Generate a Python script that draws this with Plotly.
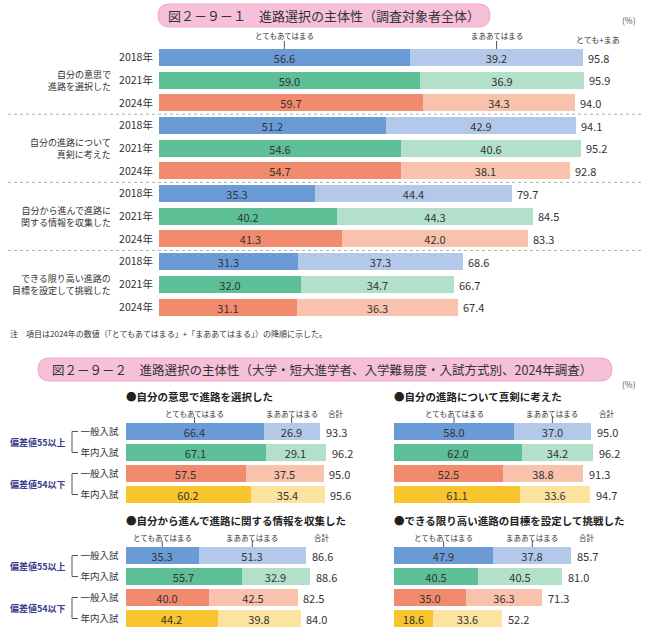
import plotly.graph_objects as go

# ---------------- data ----------------
top_groups = ["自分の意思で<br>進路を選択した", "自分の進路について<br>真剣に考えた",
              "自分から進んで進路に<br>関する情報を収集した", "できる限り高い進路の<br>目標を設定して挑戦した"]
years = ["2018年", "2021年", "2024年"]
top_strong = [56.6, 59.0, 59.7, 51.2, 54.6, 54.7, 35.3, 40.2, 41.3, 31.3, 32.0, 31.1]
top_some = [39.2, 36.9, 34.3, 42.9, 40.6, 38.1, 44.4, 44.3, 42.0, 37.3, 34.7, 36.3]
top_total = [95.8, 95.9, 94.0, 94.1, 95.2, 92.8, 79.7, 84.5, 83.3, 68.6, 66.7, 67.4]

panel_titles = ["●自分の意思で進路を選択した", "●自分の進路について真剣に考えた",
                "●自分から進んで進路に関する情報を収集した", "●できる限り高い進路の目標を設定して挑戦した"]
exam_labels = ["一般入試", "年内入試", "一般入試", "年内入試"]
score_groups = ["偏差値55以上", "偏差値54以下"]
b_strong = [[66.4, 67.1, 57.5, 60.2], [58.0, 62.0, 52.5, 61.1],
            [35.3, 55.7, 40.0, 44.2], [47.9, 40.5, 35.0, 18.6]]
b_some = [[26.9, 29.1, 37.5, 35.4], [37.0, 34.2, 38.8, 33.6],
          [51.3, 32.9, 42.5, 39.8], [37.8, 40.5, 36.3, 33.6]]
b_total = [[93.3, 96.2, 95.0, 95.6], [95.0, 96.2, 91.3, 94.7],
           [86.6, 88.6, 82.5, 84.0], [85.7, 81.0, 71.3, 52.2]]

title1 = "図２－９－１　進路選択の主体性（調査対象者全体）"
title2 = "図２－９－２　進路選択の主体性（大学・短大進学者、入学難易度・入試方式別、2024年調査）"
note = "注　項目は2024年の数値（「とてもあてはまる」+「まああてはまる」）の降順に示した。"
lab_strong = "とてもあてはまる"
lab_some = "まああてはまる"

# ---------------- style ----------------
W, H = 650, 636
FONT = "Noto Sans CJK JP"
TXT = "#333333"
dark = {"blue": "#6b9bd6", "green": "#5dbf95", "orange": "#f28b6d", "yellow": "#f8c52f"}
light = {"blue": "#b4c8e9", "green": "#b3e0ca", "orange": "#f9c2ac", "yellow": "#fde3a0"}
top_cols = ["blue", "green", "orange"] * 4
bot_cols = ["blue", "green", "orange", "yellow"]


def fx(p):
    return p / W


def fy(p):
    return 1 - p / H


fig = go.Figure()
ann = []
shapes = []


def A(**kw):
    kw.setdefault("showarrow", False)
    kw.setdefault("xanchor", "center")
    kw.setdefault("yanchor", "middle")
    ann.append(kw)


# ---------------- top chart ----------------
n = len(top_strong)
rows = list(range(n))
for vals, pal in ((top_strong, dark), (top_some, light)):
    fig.add_trace(go.Bar(y=rows, x=vals, orientation="h", xaxis="x", yaxis="y",
                         marker=dict(color=[pal[c] for c in top_cols], line=dict(width=0)),
                         width=0.75, text=[f"{v:.1f}" for v in vals],
                         textposition="inside", insidetextanchor="middle",
                         textfont=dict(size=11, color=TXT, family=FONT), hoverinfo="skip"))
for i, t in enumerate(top_total):
    A(x=t, y=i, xref="x", yref="y", text=f"{t:.1f}", xanchor="left", xshift=3,
      font=dict(size=11, color=TXT))
for g, lab in enumerate(top_groups):
    A(x=fx(113), y=g * 3 + 1, xref="paper", yref="y", text=lab, xanchor="right", align="right",
      font=dict(size=9, color=TXT))
for k in (2.5, 5.5, 8.5):
    shapes.append(dict(type="line", xref="paper", yref="y", x0=fx(8), x1=fx(642), y0=k, y1=k,
                       line=dict(color="#b0b0b0", width=1, dash="dot")))
# headers
hx1 = top_strong[0] / 2
hx2 = top_strong[0] + top_some[0] / 2
for hx, lab in ((hx1, lab_strong), (hx2, lab_some)):
    A(x=hx, y=fy(36), xref="x", yref="paper", text=lab, font=dict(size=7.5, color=TXT))
    shapes.append(dict(type="line", xref="x", yref="paper", x0=hx, x1=hx, y0=fy(41), y1=fy(49),
                       line=dict(color="#555", width=1)))
A(x=top_total[0], y=fy(40), xref="x", yref="paper", text="とても+まあ", xshift=15,
  font=dict(size=8, color=TXT))
A(x=fx(638), y=fy(20), xref="paper", yref="paper", text="(%)", xanchor="right",
  font=dict(size=8.5, color="#555"))
A(x=fx(8), y=fy(333), xref="paper", yref="paper", text=note, xanchor="left",
  font=dict(size=8, color=TXT))


# title boxes
def pill(x0, x1, y0, y1):
    r = (y1 - y0) / 2
    X0, X1 = fx(x0), fx(x1)
    Y0, Y1, YM = fy(y0), fy(y1), fy((y0 + y1) / 2)
    rx = r / W
    return (f"M {X0+rx},{Y0} L {X1-rx},{Y0} Q {X1},{Y0} {X1},{YM} Q {X1},{Y1} {X1-rx},{Y1} "
            f"L {X0+rx},{Y1} Q {X0},{Y1} {X0},{YM} Q {X0},{Y0} {X0+rx},{Y0} Z")


shapes.append(dict(type="path", xref="paper", yref="paper", path=pill(158, 490, 4, 27),
                   fillcolor="#f6c0d9", line=dict(color="#eeaacb", width=1), layer="below"))
A(x=fx(324), y=fy(15.5), xref="paper", yref="paper", text=title1, font=dict(size=13, color=TXT))
shapes.append(dict(type="path", xref="paper", yref="paper", path=pill(38, 612, 358, 381),
                   fillcolor="#f6c0d9", line=dict(color="#eeaacb", width=1), layer="below"))
A(x=fx(322), y=fy(369.5), xref="paper", yref="paper", text=title2, font=dict(size=12.5, color=TXT))
A(x=fx(638), y=fy(384), xref="paper", yref="paper", text="(%)", xanchor="right",
  font=dict(size=8.5, color="#555"))

# ---------------- bottom panels ----------------
panel_geo = [  # (x start px, px per %, top row center px)
    (125.5, 2.08, 431.5), (394, 2.07, 431.5), (125.5, 2.08, 555.5), (394, 2.07, 555.5)]
ROW = 21
layout_axes = {}
layout_axes["xaxis"] = dict(domain=[fx(159), 1], range=[0, (W - 159) / 4.43], visible=False)
layout_axes["yaxis"] = dict(domain=[fy(57.5 + 11.5 * 22.7), fy(57.5 - 0.5 * 22.7)],
                            range=[11.5, -0.5], tickvals=rows, ticktext=years * 4,
                            ticks="outside", ticklen=3, tickcolor="rgba(0,0,0,0)",
                            showline=False, showgrid=False, zeroline=False,
                            tickfont=dict(size=10.5, color=TXT), anchor="x")

for p in range(4):
    xs, k, top = panel_geo[p]
    xa, ya = f"x{p+2}", f"y{p+2}"
    xend = 644 if p % 2 else 378
    layout_axes[f"xaxis{p+2}"] = dict(domain=[fx(xs), fx(xend)], range=[0, (xend - xs) / k],
                                      visible=False, anchor=ya)
    yd = dict(domain=[fy(top + 3.5 * ROW), fy(top - 0.5 * ROW)], range=[3.5, -0.5],
              showgrid=False, zeroline=False, showline=False, anchor=xa)
    if p % 2 == 0:
        yd.update(tickvals=[0, 1, 2, 3], ticktext=exam_labels, ticks="outside", ticklen=4,
                  tickcolor="rgba(0,0,0,0)", tickfont=dict(size=9.5, color=TXT))
    else:
        yd.update(showticklabels=False)
    layout_axes[f"yaxis{p+2}"] = yd
    r4 = [0, 1, 2, 3]
    for vals, pal in ((b_strong[p], dark), (b_some[p], light)):
        fig.add_trace(go.Bar(y=r4, x=vals, orientation="h", xaxis=xa, yaxis=ya,
                             marker=dict(color=[pal[c] for c in bot_cols], line=dict(width=0)),
                             width=0.83, text=[f"{v:.1f}" for v in vals],
                             textposition="inside", insidetextanchor="middle",
                             textfont=dict(size=11, color=TXT, family=FONT), hoverinfo="skip"))
    for i, t in enumerate(b_total[p]):
        A(x=t, y=i, xref=xa, yref=ya, text=f"{t:.1f}", xanchor="left", xshift=4,
          font=dict(size=11, color=TXT))
    # panel title
    A(x=fx(xs), y=fy(top - 35), xref="paper", yref="paper", text=panel_titles[p],
      xanchor="left", xshift=-2, font=dict(size=10.5, color="#222", weight="bold"))
    # headers
    h1 = b_strong[p][0] / 2
    h2 = b_strong[p][0] + b_some[p][0] / 2
    for hx, lab in ((h1, lab_strong), (h2, lab_some)):
        A(x=hx, y=fy(top - 18.5), xref=xa, yref="paper", text=lab, font=dict(size=7.5, color=TXT))
        shapes.append(dict(type="line", xref=xa, yref="paper", x0=hx, x1=hx,
                           y0=fy(top - 14.5), y1=fy(top - 8.5), line=dict(color="#555", width=1)))
    A(x=b_total[p][0], y=fy(top - 18.5), xref=xa, yref="paper", text="合計", xshift=16,
      font=dict(size=7.5, color=TXT))
    # group brackets
    if p % 2 == 0:
        for g in range(2):
            a, b = 2 * g, 2 * g + 1
            shapes.append(dict(type="path", xref="paper", yref=ya,
                               path=f"M {fx(78)},{a} L {fx(72)},{a} L {fx(72)},{b} L {fx(78)},{b}",
                               line=dict(color="#555", width=1)))
            A(x=fx(68), y=a + 0.5, xref="paper", yref=ya, text=score_groups[g], xanchor="right",
              font=dict(size=9, color="#3b3c8f", weight="bold"))

fig.update_layout(
    width=W, height=H, margin=dict(l=0, r=0, t=0, b=0),
    paper_bgcolor="white", plot_bgcolor="white",
    barmode="stack", bargap=0, showlegend=False,
    font=dict(family=FONT, color=TXT),
    uniformtext=dict(mode="show", minsize=11),
    annotations=ann, shapes=shapes, **layout_axes)

fig.write_html("out.html", post_script="document.body.style.margin='0';",
               config={"displayModeBar": False})
